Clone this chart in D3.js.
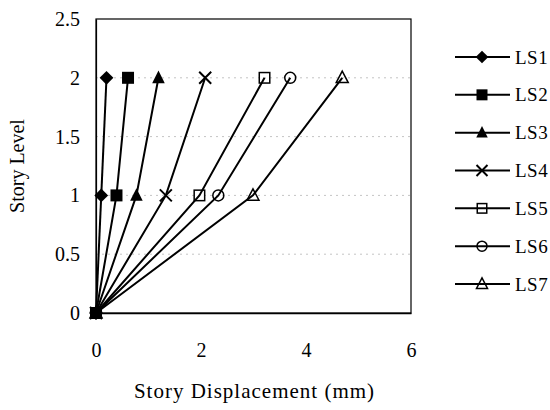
<!DOCTYPE html>
<html>
<head>
<meta charset="utf-8">
<script src="https://cdn.jsdelivr.net/npm/d3@7"></script>
<style>
  body { margin: 0; background: #fff; }
  svg text { font-family: "Liberation Serif", "Times New Roman", "DejaVu Serif", serif; fill: #000; }
</style>
</head>
<body>
<svg id="chart" width="550" height="410"></svg>
<script>
// Story levels (y) and displacement per load step (x, mm)
const levels = [0, 1, 2];
const seriesNames = ["LS1", "LS2", "LS3", "LS4", "LS5", "LS6", "LS7"];
const ls1 = [0, 0.10, 0.20];
const ls2 = [0, 0.39, 0.61];
const ls3 = [0, 0.77, 1.19];
const ls4 = [0, 1.33, 2.08];
const ls5 = [0, 1.97, 3.21];
const ls6 = [0, 2.33, 3.70];
const ls7 = [0, 2.99, 4.69];
const markerTypes = ["diamond", "square", "triangle", "cross", "squareOpen", "circleOpen", "triangleOpen"];
const xTicks = [0, 2, 4, 6];
const yTicks = [0, 0.5, 1, 1.5, 2, 2.5];

const seriesValues = [ls1, ls2, ls3, ls4, ls5, ls6, ls7];
const series = seriesNames.map((name, i) => ({
  name, marker: markerTypes[i],
  points: levels.map((lv, j) => ({ x: seriesValues[i][j], y: lv }))
}));

const FONT = '"Liberation Serif", "Times New Roman", "DejaVu Serif", serif';
const svg = d3.select("#chart");
const margin = { left: 96, top: 19, right: 139, bottom: 97 };
const W = 550, H = 410;
const x = d3.scaleLinear().domain([0, 6]).range([margin.left, W - margin.right]);
const y = d3.scaleLinear().domain([0, 2.5]).range([H - margin.bottom, margin.top]);

// faint dotted gridlines
svg.append("g")
  .selectAll("line").data(yTicks.filter(t => t > 0 && t < 2.5)).join("line")
  .attr("x1", x(0)).attr("x2", x(6))
  .attr("y1", d => y(d)).attr("y2", d => y(d))
  .attr("stroke", "#c4c4c4").attr("stroke-width", 1)
  .attr("stroke-dasharray", "2,4");

// plot frame
svg.append("rect")
  .attr("x", x(0)).attr("y", y(2.5))
  .attr("width", x(6) - x(0)).attr("height", y(0) - y(2.5))
  .attr("fill", "none").attr("stroke", "#000").attr("stroke-width", 1.2);

// axes (labels only, no tick marks)
const xAxis = d3.axisBottom(x).tickValues(xTicks).tickSize(0).tickPadding(30).tickFormat(d3.format("d"));
const yAxis = d3.axisLeft(y).tickValues(yTicks).tickSize(0).tickPadding(16).tickFormat(d => String(d));
svg.append("g").attr("transform", `translate(0,${y(0)})`).call(xAxis)
  .attr("font-family", FONT)
  .call(g => g.select(".domain").attr("stroke", "#000").attr("stroke-width", 1.5))
  .selectAll("text").attr("font-size", 20);
svg.append("g").attr("transform", `translate(${x(0)},0)`).call(yAxis)
  .attr("font-family", FONT)
  .call(g => g.select(".domain").attr("stroke", "#000").attr("stroke-width", 1.2))
  .selectAll("text").attr("font-size", 20);

// axis titles
svg.append("text")
  .attr("x", (x(0) + x(6)) / 2 + 1).attr("y", 398)
  .attr("text-anchor", "middle").attr("font-size", 21)
  .attr("letter-spacing", 1)
  .text("Story Displacement (mm)");
svg.append("text")
  .attr("transform", `translate(24,${(y(0) + y(2.5)) / 2}) rotate(-90)`)
  .attr("text-anchor", "middle").attr("font-size", 20)
  .text("Story Level");

// marker drawing
function drawMarker(g, type, s) {
  const r = s / 2;
  switch (type) {
    case "diamond":
      g.append("path").attr("d", `M0,${-r * 1.15}L${r * 1.15},0L0,${r * 1.15}L${-r * 1.15},0Z`).attr("fill", "#000");
      break;
    case "square":
      g.append("rect").attr("x", -r).attr("y", -r).attr("width", s).attr("height", s).attr("fill", "#000");
      break;
    case "triangle":
      g.append("path").attr("d", `M0,${-r * 1.2}L${r * 1.05},${r * 0.9}L${-r * 1.05},${r * 0.9}Z`).attr("fill", "#000");
      break;
    case "cross":
      g.append("path").attr("d", `M${-r},${-r}L${r},${r}M${r},${-r}L${-r},${r}`)
        .attr("stroke", "#000").attr("stroke-width", 2).attr("fill", "none");
      break;
    case "squareOpen":
      g.append("rect").attr("x", -r + 0.75).attr("y", -r + 0.75).attr("width", s - 1.5).attr("height", s - 1.5)
        .attr("fill", "none").attr("stroke", "#000").attr("stroke-width", 1.5);
      break;
    case "circleOpen":
      g.append("circle").attr("r", r - 0.5).attr("fill", "none").attr("stroke", "#000").attr("stroke-width", 1.5);
      break;
    case "triangleOpen":
      g.append("path").attr("d", `M0,${-r * 1.1}L${r * 1.0},${r * 0.8}L${-r * 1.0},${r * 0.8}Z`)
        .attr("fill", "none").attr("stroke", "#000").attr("stroke-width", 1.5);
      break;
  }
}

const line = d3.line().x(d => x(d.x)).y(d => y(d.y));
const plot = svg.append("g");
series.forEach(sr => {
  plot.append("path").attr("d", line(sr.points))
    .attr("fill", "none").attr("stroke", "#000").attr("stroke-width", 2);
  sr.points.forEach(p => {
    const g = plot.append("g").attr("transform", `translate(${x(p.x)},${y(p.y)})`);
    drawMarker(g, sr.marker, 12);
  });
});

// legend
const legend = svg.append("g");
const legY = d3.scalePoint().domain(seriesNames).range([57, 284]);
series.forEach(sr => {
  const ly = legY(sr.name);
  legend.append("line").attr("x1", 455).attr("x2", 510).attr("y1", ly).attr("y2", ly)
    .attr("stroke", "#000").attr("stroke-width", 2);
  drawMarker(legend.append("g").attr("transform", `translate(482,${ly})`), sr.marker, 11);
  legend.append("text").attr("x", 515).attr("y", ly + 6.5)
    .attr("font-size", 19).attr("letter-spacing", 0.5).text(sr.name);
});
</script>
</body>
</html>
